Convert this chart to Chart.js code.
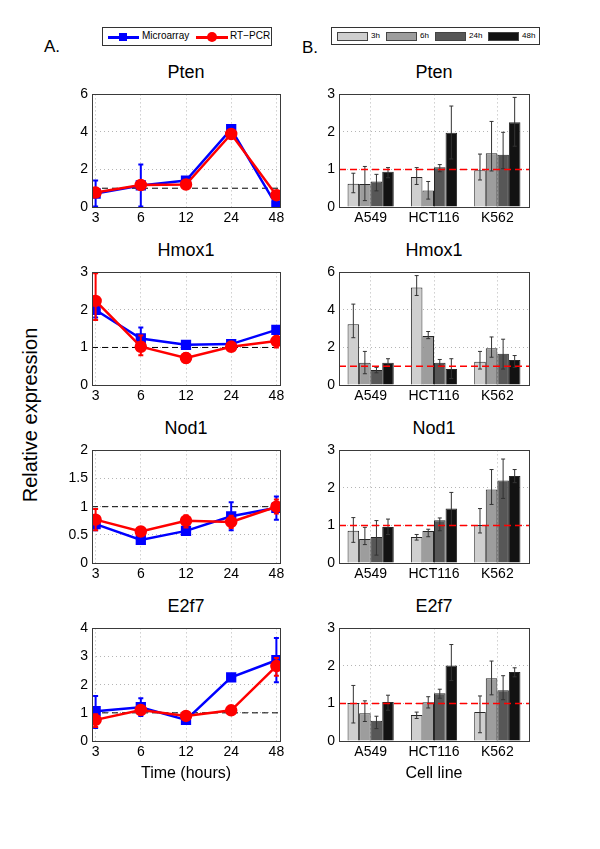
<!DOCTYPE html>
<html>
<head>
<meta charset="utf-8">
<script src="https://cdn.jsdelivr.net/npm/chart.js@4"></script>
<style>
  body { margin: 0; background: #fff; font-family: "Liberation Sans", Arial, sans-serif; }
  #fig { position: relative; width: 600px; height: 849px; }
  canvas { position: absolute; }
  .txt { position: absolute; color: #000; white-space: nowrap; }
  .title { font-size: 18px; transform: translate(-50%, -50%); }
  .legend { position: absolute; border: 1px solid #333; background: #fff; height: 17px; }
  .legend span { position: absolute; top: 2px; font-size: 10px; }
</style>
</head>
<body>
<div id="fig"></div>
<script>
// time points (left column) and cell lines (right column)
const timeLabels = ['3', '6', '12', '24', '48'];
const cellLines = ['A549', 'HCT116', 'K562'];
const hourSeries = ['3h', '6h', '24h', '48h'];
const baselineValue = 1;

// A. microarray vs RT-PCR, value + error bar low/high
const ptenMicro = [0.72, 1.15, 1.41, 4.15, 0.09];
const ptenMicroLo = [0.03, 0.03, 1.30, 4.05, 0.00];
const ptenMicroHi = [1.41, 2.26, 1.50, 4.25, 0.15];
const ptenPcr = [0.77, 1.17, 1.20, 3.89, 0.63];
const ptenPcrLo = [0.65, 1.00, 1.08, 3.75, 0.55];
const ptenPcrHi = [0.90, 1.30, 1.30, 4.00, 0.72];

const hmoxMicro = [2.00, 1.24, 1.07, 1.09, 1.47];
const hmoxMicroLo = [1.80, 1.00, 1.02, 1.03, 1.40];
const hmoxMicroHi = [2.10, 1.53, 1.12, 1.18, 1.55];
const hmoxPcr = [2.24, 1.02, 0.72, 1.02, 1.17];
const hmoxPcrLo = [1.73, 0.79, 0.60, 0.92, 1.00];
const hmoxPcrHi = [2.98, 1.32, 0.85, 1.15, 1.30];

const nodMicro = [0.69, 0.41, 0.57, 0.83, 0.98];
const nodMicroLo = [0.58, 0.35, 0.52, 0.58, 0.77];
const nodMicroHi = [0.80, 0.46, 0.62, 1.08, 1.18];
const nodPcr = [0.77, 0.56, 0.75, 0.73, 1.00];
const nodPcrLo = [0.58, 0.50, 0.63, 0.62, 0.88];
const nodPcrHi = [0.96, 0.62, 0.85, 0.84, 1.13];

const e2fMicro = [1.06, 1.20, 0.75, 2.26, 2.87];
const e2fMicroLo = [0.46, 0.89, 0.68, 2.20, 2.09];
const e2fMicroHi = [1.60, 1.52, 0.85, 2.30, 3.66];
const e2fPcr = [0.75, 1.10, 0.89, 1.09, 2.66];
const e2fPcrLo = [0.50, 0.98, 0.80, 1.03, 2.32];
const e2fPcrHi = [0.95, 1.20, 0.98, 1.15, 2.95];

// B. per cell line, one row per time series (3h, 6h, 24h, 48h)
const ptenBar = [[0.62, 0.80, 0.98], [0.61, 0.44, 1.43], [0.68, 1.06, 1.39], [0.94, 1.98, 2.26]];
const ptenBarLo = [[0.38, 0.60, 0.72], [0.17, 0.21, 0.96], [0.43, 0.94, 1.02], [0.78, 1.28, 1.62]];
const ptenBarHi = [[0.90, 1.05, 1.41], [1.08, 0.68, 2.28], [0.87, 1.13, 1.99], [1.05, 2.69, 2.92]];

const hmoxBar = [[3.24, 5.20, 1.24], [1.19, 2.61, 1.96], [0.80, 1.19, 1.67], [1.19, 0.85, 1.33]];
const hmoxBarLo = [[2.52, 4.77, 0.85], [0.60, 2.47, 1.48], [0.65, 1.02, 0.85], [1.02, 0.34, 0.94]];
const hmoxBarHi = [[4.31, 5.83, 1.79], [1.79, 2.85, 2.56], [0.94, 1.36, 2.44], [1.40, 1.40, 1.57]];

const nodBar = [[0.86, 0.69, 1.01], [0.64, 0.85, 1.96], [0.69, 1.14, 2.20], [0.96, 1.45, 2.32]];
const nodBarLo = [[0.55, 0.61, 0.80], [0.49, 0.70, 1.56], [0.21, 0.86, 1.72], [0.76, 1.00, 2.14]];
const nodBarHi = [[1.21, 0.76, 1.45], [0.95, 0.90, 2.49], [1.13, 1.20, 2.77], [1.17, 1.88, 2.49]];

const e2fBar = [[1.01, 0.69, 0.77], [0.74, 1.03, 1.67], [0.54, 1.27, 1.35], [1.04, 2.01, 1.84]];
const e2fBarLo = [[0.48, 0.60, 0.22], [0.52, 0.88, 1.23], [0.33, 1.14, 1.10], [0.82, 1.61, 1.71]];
const e2fBarHi = [[1.48, 0.77, 1.20], [1.07, 1.18, 2.13], [0.66, 1.38, 1.74], [1.22, 2.57, 1.95]];

const barColors = ['#cfcfcf', '#9d9d9d', '#575757', '#121212'];
const plotTops = [90, 268, 446, 624];
const plotH = 117;

const fig = document.getElementById('fig');
const tickFont = {family: '"Liberation Sans", Arial, sans-serif', size: 14};

// draws error bars from dataset.errLo / dataset.errHi, right after each dataset
const errorBars = {
  id: 'errorBars',
  afterDatasetDraw(chart, args) {
    const ds = chart.data.datasets[args.index];
    if (!ds.errLo) return;
    const y = chart.scales.y;
    const ctx = chart.ctx;
    ctx.save();
    ctx.strokeStyle = ds.errColor;
    ctx.lineWidth = ds.errWidth;
    args.meta.data.forEach((el, i) => {
      const top = y.getPixelForValue(ds.errHi[i]);
      const bot = y.getPixelForValue(ds.errLo[i]);
      const c = ds.errCap;
      ctx.beginPath();
      ctx.moveTo(el.x, top); ctx.lineTo(el.x, bot);
      ctx.moveTo(el.x - c, top); ctx.lineTo(el.x + c, top);
      ctx.moveTo(el.x - c, bot); ctx.lineTo(el.x + c, bot);
      ctx.stroke();
    });
    ctx.restore();
  }
};

// dashed reference line at baselineValue, drawn across the plot area
const refLine = {
  id: 'refLine',
  afterDatasetsDraw(chart, args, opts) {
    const a = chart.chartArea;
    const yp = chart.scales.y.getPixelForValue(baselineValue);
    const ctx = chart.ctx;
    ctx.save();
    ctx.strokeStyle = opts.color;
    ctx.lineWidth = opts.width;
    ctx.setLineDash([7, 4]);
    ctx.beginPath();
    ctx.moveTo(a.left, yp);
    ctx.lineTo(a.right, yp);
    ctx.stroke();
    ctx.restore();
  }
};

// box around the plot area
const frame = {
  id: 'frame',
  afterDraw(chart) {
    const a = chart.chartArea;
    const ctx = chart.ctx;
    ctx.save();
    ctx.strokeStyle = '#3a3a3a';
    ctx.lineWidth = 1;
    ctx.strokeRect(Math.round(a.left) + 0.5, Math.round(a.top) + 0.5,
      Math.round(a.right - a.left), Math.round(a.bottom - a.top));
    ctx.restore();
  }
};

function addText(html, left, top, cls, extra) {
  const d = document.createElement('div');
  d.className = 'txt ' + (cls || '');
  d.innerHTML = html;
  d.style.left = left + 'px';
  d.style.top = top + 'px';
  if (extra) Object.assign(d.style, extra);
  fig.appendChild(d);
  return d;
}

function addCanvas(left, top, w, h) {
  const c = document.createElement('canvas');
  c.width = w; c.height = h;
  c.style.left = left + 'px'; c.style.top = top + 'px';
  c.style.width = w + 'px'; c.style.height = h + 'px';
  fig.appendChild(c);
  return c;
}

const yAxis = (max, step) => ({
  min: 0, max: max,
  ticks: {stepSize: step, color: '#000', font: tickFont, padding: 4, callback: (v) => String(v)},
  grid: {color: '#b5b5b5', drawTicks: false},
  border: {display: false, dash: [1, 3]},
  afterFit: (s) => { s.width = 34; }
});

function lineChart(row, title, micro, microLo, microHi, pcr, pcrLo, pcrHi, yMax, yStep) {
  const top = plotTops[row];
  addText(title, 186, top - 18, 'title');
  const canvas = addCanvas(58, top - 8, 230, plotH + 32);
  const pts = (arr) => arr.map((v, i) => ({x: i, y: v}));
  new Chart(canvas, {
    type: 'line',
    data: {
      datasets: [{
        label: 'RT-PCR',
        data: pts(pcr),
        borderColor: '#ff0000', backgroundColor: '#ff0000',
        borderWidth: 2.5, pointStyle: 'circle', pointRadius: 5,
        errLo: pcrLo, errHi: pcrHi, errColor: '#ff0000', errWidth: 2, errCap: 2.5
      }, {
        label: 'Microarray',
        data: pts(micro),
        borderColor: '#0000ff', backgroundColor: '#0000ff',
        borderWidth: 2.5, pointStyle: 'rect', pointRadius: 5.5,
        errLo: microLo, errHi: microHi, errColor: '#0000ff', errWidth: 2, errCap: 2.5
      }, {
        label: 'baseline',
        data: [{x: -0.08, y: baselineValue}, {x: 4.08, y: baselineValue}],
        borderColor: '#000', borderWidth: 1, borderDash: [6, 4], pointRadius: 0
      }]
    },
    options: {
      responsive: false, animation: false,
      layout: {padding: {top: 8, right: 8, left: 0, bottom: 0}},
      plugins: {legend: {display: false}, tooltip: {enabled: false}},
      scales: {
        x: {
          type: 'linear', min: -0.08, max: 4.08,
          afterBuildTicks: (s) => { s.ticks = timeLabels.map((_, i) => ({value: i})); },
          ticks: {color: '#000', font: tickFont, padding: 3, callback: (v) => timeLabels[v]},
          grid: {color: '#b5b5b5', drawTicks: false},
          border: {display: false, dash: [1, 3]},
          afterFit: (s) => { s.height = 24; }
        },
        y: yAxis(yMax, yStep)
      }
    },
    plugins: [errorBars, frame]
  });
}

function barChart(row, title, vals, lo, hi, yMax, yStep) {
  const top = plotTops[row];
  addText(title, 434, top - 18, 'title');
  const canvas = addCanvas(305, top - 8, 232, plotH + 32);
  new Chart(canvas, {
    type: 'bar',
    data: {
      labels: cellLines,
      datasets: hourSeries.map((h, k) => ({
        label: h, data: vals[k],
        backgroundColor: barColors[k], borderColor: '#262626', borderWidth: 1,
        categoryPercentage: 0.73, barPercentage: 1.0,
        errLo: lo[k], errHi: hi[k], errColor: '#333', errWidth: 1, errCap: 2
      }))
    },
    options: {
      responsive: false, animation: false,
      layout: {padding: {top: 8, right: 8, left: 0, bottom: 0}},
      plugins: {
        legend: {display: false}, tooltip: {enabled: false},
        refLine: {color: '#ff0000', width: 1.5}
      },
      scales: {
        x: {
          ticks: {color: '#000', font: tickFont, padding: 3},
          grid: {color: '#b5b5b5', drawTicks: false, offset: false},
          border: {display: false, dash: [1, 3]},
          afterFit: (s) => { s.height = 24; }
        },
        y: yAxis(yMax, yStep)
      }
    },
    plugins: [errorBars, refLine, frame]
  });
}

lineChart(0, 'Pten', ptenMicro, ptenMicroLo, ptenMicroHi, ptenPcr, ptenPcrLo, ptenPcrHi, 6, 2);
lineChart(1, 'Hmox1', hmoxMicro, hmoxMicroLo, hmoxMicroHi, hmoxPcr, hmoxPcrLo, hmoxPcrHi, 3, 1);
lineChart(2, 'Nod1', nodMicro, nodMicroLo, nodMicroHi, nodPcr, nodPcrLo, nodPcrHi, 2, 0.5);
lineChart(3, 'E2f7', e2fMicro, e2fMicroLo, e2fMicroHi, e2fPcr, e2fPcrLo, e2fPcrHi, 4, 1);

barChart(0, 'Pten', ptenBar, ptenBarLo, ptenBarHi, 3, 1);
barChart(1, 'Hmox1', hmoxBar, hmoxBarLo, hmoxBarHi, 6, 2);
barChart(2, 'Nod1', nodBar, nodBarLo, nodBarHi, 3, 1);
barChart(3, 'E2f7', e2fBar, e2fBarLo, e2fBarHi, 3, 1);

// panel letters and axis labels
addText('A.', 44, 37, '', {fontSize: '17px'});
addText('B.', 302, 38, '', {fontSize: '17px'});
addText('Relative expression', 30, 415, '', {fontSize: '20px', transform: 'translate(-50%, -50%) rotate(-90deg)'});
addText('Time (hours)', 186, 773, '', {fontSize: '16px', transform: 'translate(-50%, -50%)'});
addText('Cell line', 434, 773, '', {fontSize: '16px', transform: 'translate(-50%, -50%)'});

// legend A
const legA = document.createElement('div');
legA.className = 'legend';
Object.assign(legA.style, {left: '102px', top: '27px', width: '168px'});
legA.innerHTML =
  '<div style="position:absolute;left:5px;top:8px;width:31px;height:2.5px;background:#00f"></div>' +
  '<div style="position:absolute;left:16px;top:5px;width:8px;height:8px;background:#00f"></div>' +
  '<span style="left:39px">Microarray</span>' +
  '<div style="position:absolute;left:93px;top:8px;width:32px;height:2.5px;background:#f00"></div>' +
  '<div style="position:absolute;left:104px;top:4px;width:10px;height:10px;border-radius:50%;background:#f00"></div>' +
  '<span style="left:127px">RT\u2212PCR</span>';
fig.appendChild(legA);

// legend B
const legB = document.createElement('div');
legB.className = 'legend';
Object.assign(legB.style, {left: '331px', top: '27px', width: '207px', height: '16px'});
const patchX = [5, 54, 103, 156];
legB.innerHTML = hourSeries.map((h, k) =>
  '<div style="position:absolute;left:' + patchX[k] + 'px;top:4px;width:29px;height:7px;border:1px solid #444;background:' + barColors[k] + '"></div>' +
  '<span style="left:' + (patchX[k] + 34) + 'px;top:3px;font-size:8px">' + h + '</span>'
).join('');
fig.appendChild(legB);
</script>
</body>
</html>
